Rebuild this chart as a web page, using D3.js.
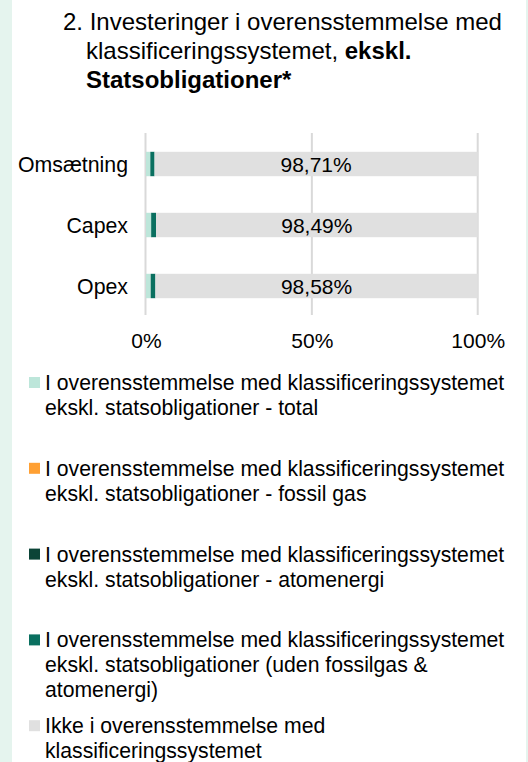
<!DOCTYPE html>
<html>
<head>
<meta charset="utf-8">
<script src="https://cdn.jsdelivr.net/npm/d3@7"></script>
<style>
  html, body { margin: 0; padding: 0; background: #fff; }
  svg { display: block; font-family: "Liberation Sans", Arial, sans-serif; }
</style>
</head>
<body>
<svg id="chart" width="528" height="762"></svg>
<script>
// values (percent)
var categories = ["Omsætning", "Capex", "Opex"];
var total = [1.29, 1.51, 1.42];
var fossilGas = [0, 0, 0];
var atomenergi = [0.02, 0.06, 0.04];
var udenFossilAtom = [1.27, 1.45, 1.38];
var ikke = [98.71, 98.49, 98.58];
var xTicks = [0, 50, 100];

var seriesKeys = ["total", "fossil", "atom", "uden", "ikke"];
var seriesLabels = [
  ["I overensstemmelse med klassificeringssystemet", "ekskl. statsobligationer - total"],
  ["I overensstemmelse med klassificeringssystemet", "ekskl. statsobligationer - fossil gas"],
  ["I overensstemmelse med klassificeringssystemet", "ekskl. statsobligationer - atomenergi"],
  ["I overensstemmelse med klassificeringssystemet", "ekskl. statsobligationer (uden fossilgas &", "atomenergi)"],
  ["Ikke i overensstemmelse med", "klassificeringssystemet"]
];
var seriesColors = ["#bde6da", "#ffa033", "#0b4437", "#0a7060", "#e0e0e0"];

var svg = d3.select("#chart"),
  locale = d3.formatLocale({decimal: ",", thousands: ".", grouping: [3], currency: ["", " kr."]}),
  fmt = locale.format(".2f"),
  rows = categories.map(function(c, i) {
    return {cat: c, total: total[i], fossil: fossilGas[i], atom: atomenergi[i], uden: udenFossilAtom[i], ikke: ikke[i]};
  }),
  stacked = d3.stack().keys(seriesKeys)(rows),
  x = d3.scaleLinear().domain([0, 100]).range([146, 477.7]).clamp(true),
  y = d3.scaleBand().domain(categories).range([133.5, 316.5]).paddingInner(0.6).paddingOuter(0.3),
  color = d3.scaleOrdinal().domain(seriesKeys).range(seriesColors);

// side strips
svg.append("rect").attr("x", 0).attr("y", 0).attr("width", 12).attr("height", 762).attr("fill", "#e5f4ee");
svg.append("rect").attr("x", 526).attr("y", 0).attr("width", 2).attr("height", 762).attr("fill", "#e5f4ee");

// title
var title = svg.append("text")
  .attr("font-size", 24)
  .attr("fill", "#000");
title.append("tspan").attr("x", 63).attr("y", 30).text("2. Investeringer i overensstemmelse med");
var t2 = title.append("tspan").attr("x", 86).attr("y", 59);
t2.append("tspan").text("klassificeringssystemet, ");
t2.append("tspan").attr("font-weight", "bold").text("ekskl.");
title.append("tspan").attr("x", 86).attr("y", 88).attr("font-weight", "bold").text("Statsobligationer*");

// gridlines
svg.append("g")
  .attr("class", "grid")
  .selectAll("line")
  .data(xTicks)
  .enter()
  .append("line")
    .attr("x1", function(d) { return x(d) - (d === 0 ? 0.5 : 0); })
    .attr("x2", function(d) { return x(d) - (d === 0 ? 0.5 : 0); })
    .attr("y1", 133)
    .attr("y2", 315)
    .attr("stroke", "#d9d9d9")
    .attr("stroke-width", 2);

// bars
var layers = svg.append("g")
  .attr("class", "data")
  .selectAll("g")
  .data(stacked)
  .enter()
  .append("g")
    .attr("fill", function(d) { return color(d.key); });

layers.selectAll("rect")
  .data(function(d) { return d; })
  .enter()
  .append("rect")
    .attr("x", function(d) { return x(d[0]); })
    .attr("width", function(d) { return Math.max(0, x(d[1]) - x(d[0])); })
    .attr("y", function(d) { return y(d.data.cat); })
    .attr("height", y.bandwidth());

// value labels on the grey segment
var ikkeLayer = stacked[stacked.length - 1];
svg.append("g")
  .selectAll("text")
  .data(ikkeLayer)
  .enter()
  .append("text")
    .attr("x", function(d) { return (x(d[0]) + x(d[1])) / 2; })
    .attr("y", function(d) { return y(d.data.cat) + y.bandwidth() / 2; })
    .attr("dy", "0.36em")
    .attr("text-anchor", "middle")
    .attr("font-size", 21)
    .attr("fill", "#000")
    .text(function(d) { return fmt(d.data.ikke) + "%"; });

// category axis
var yAxis = svg.append("g")
  .attr("transform", "translate(128,0)")
  .call(d3.axisLeft(y).tickSize(0).tickPadding(0));
yAxis.select(".domain").remove();
yAxis.selectAll("text")
  .attr("font-size", 21.3)
  .attr("font-family", null)
  .attr("fill", "#000")
  .attr("dy", "0.36em");

// value axis
var xAxis = svg.append("g")
  .attr("transform", "translate(0,330)")
  .call(d3.axisBottom(x).tickValues(xTicks).tickSize(0).tickPadding(3).tickFormat(function(d) { return d + "%"; }));
xAxis.select(".domain").remove();
xAxis.selectAll("text")
  .attr("font-size", 21)
  .attr("font-family", null)
  .attr("fill", "#000");

// legend
var legend = svg.append("g")
  .attr("class", "legend")
  .selectAll("g")
  .data(seriesKeys)
  .enter()
  .append("g")
    .attr("transform", function(d, i) { return "translate(0," + (390 + i * 85.8) + ")"; });

legend.append("rect")
  .attr("x", 29)
  .attr("y", -13)
  .attr("width", 11)
  .attr("height", 11)
  .attr("fill", function(d) { return color(d); });

legend.append("text")
  .attr("font-size", 21.2)
  .attr("fill", "#000")
  .selectAll("tspan")
  .data(function(d, i) { return seriesLabels[i]; })
  .enter()
  .append("tspan")
    .attr("x", 45)
    .attr("y", function(d, i) { return i * 25; })
    .text(function(d) { return d; });
</script>
</body>
</html>
